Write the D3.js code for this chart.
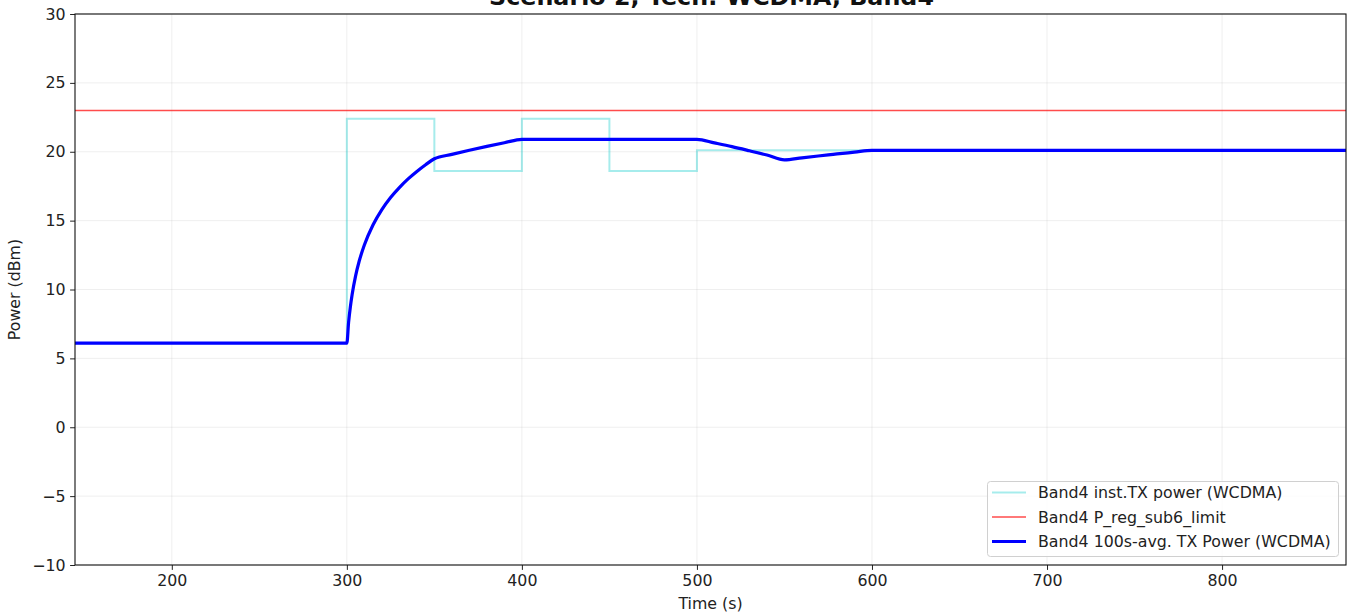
<!DOCTYPE html>
<html><head><meta charset="utf-8">
<script src="https://cdn.jsdelivr.net/npm/d3@7"></script>
<style>body{margin:0;background:#fff}svg{display:block;font-family:"DejaVu Sans",sans-serif}</style>
</head><body><svg id="c" width="1352" height="615"></svg>
<script>
const titleText = "Scenario 2, Tech: WCDMA, Band4";
const xTicks = [200, 300, 400, 500, 600, 700, 800];
const yTicks = [-10, -5, 0, 5, 10, 15, 20, 25, 30];
// instantaneous TX power (step series): time, dBm
const instTime = [0, 300, 300, 350, 350, 400, 400, 450, 450, 500, 500, 1000];
const instPower = [6.1, 6.1, 22.4, 22.4, 18.6, 18.6, 22.4, 22.4, 18.6, 18.6, 20.1, 20.1];
// regulatory limit
const limitValue = 23;
// 100s averaged TX power
const avgTime = [0, 300, 301, 302, 303, 305, 307, 310, 315, 320, 325, 330, 335, 340, 345, 350, 360, 370, 380, 390, 400, 500, 510, 520, 530, 540, 550, 560, 575, 580, 590, 600, 1000];
const avgPower = [6.1, 6.1, 7.61, 8.73, 9.62, 10.99, 12.03, 13.23, 14.70, 15.80, 16.68, 17.40, 18.03, 18.57, 19.06, 19.49, 19.81, 20.11, 20.39, 20.65, 20.90, 20.90, 20.64, 20.37, 20.07, 19.76, 19.41, 19.56, 19.77, 19.84, 19.97, 20.10, 20.10];
const legendLabels = ["Band4 inst.TX power (WCDMA)", "Band4 P_reg_sub6_limit", "Band4 100s-avg. TX Power (WCDMA)"];

const FS = "15.8px";
const svg = d3.select("#c");
const L = 75, R = 1346, T = 14, B = 565;
const x = d3.scaleLinear().domain([144.7, 870.8]).range([L, R]);
const y = d3.scaleLinear().domain([-10, 30]).range([B, T]);

svg.append("defs").append("clipPath").attr("id", "clip")
  .append("rect").attr("x", L).attr("y", T).attr("width", R - L).attr("height", B - T);

// grid
const g = svg.append("g");
g.selectAll(".gx").data(xTicks).join("line")
  .attr("x1", d => x(d)).attr("x2", d => x(d)).attr("y1", T).attr("y2", B)
  .attr("stroke", "#b0b0b0").attr("stroke-opacity", 0.25).attr("stroke-width", 0.8);
g.selectAll(".gy").data(yTicks).join("line")
  .attr("y1", d => y(d)).attr("y2", d => y(d)).attr("x1", L).attr("x2", R)
  .attr("stroke", "#b0b0b0").attr("stroke-opacity", 0.25).attr("stroke-width", 0.8);

const plot = svg.append("g").attr("clip-path", "url(#clip)");
const instData = instTime.map((t, i) => [t, instPower[i]]);
const avgData = avgTime.map((t, i) => [t, avgPower[i]]);
const line = d3.line().x(d => x(d[0])).y(d => y(d[1]));

plot.append("path").datum(instData).attr("d", line)
  .attr("fill", "none").attr("stroke", "#00c8c8").attr("stroke-opacity", 0.35).attr("stroke-width", 2);
plot.append("line").attr("x1", L).attr("x2", R).attr("y1", y(limitValue)).attr("y2", y(limitValue))
  .attr("stroke", "#ff0000").attr("stroke-opacity", 0.7).attr("stroke-width", 1.5);
plot.append("path").datum(avgData).attr("d", d3.line().curve(d3.curveMonotoneX).x(d => x(d[0])).y(d => y(d[1])))
  .attr("fill", "none").attr("stroke", "#0000ff").attr("stroke-width", 3.2).attr("stroke-linejoin", "round");

// axes
const fmt = d => d < 0 ? "\u2212" + Math.abs(d) : String(d);
const xa = svg.append("g").attr("transform", `translate(0,${B})`)
  .call(d3.axisBottom(x).tickValues(xTicks).tickSize(4.9).tickPadding(4.5).tickFormat(fmt));
const ya = svg.append("g").attr("transform", `translate(${L},0)`)
  .call(d3.axisLeft(y).tickValues(yTicks).tickSize(4.9).tickPadding(4.5).tickFormat(fmt));
[xa, ya].forEach(a => {
  a.select(".domain").remove();
  a.selectAll("text").attr("font-size", FS).attr("fill", "#222").attr("font-family", "DejaVu Sans, sans-serif");
  a.selectAll("line").attr("stroke", "#222").attr("stroke-width", 1);
});
svg.append("rect").attr("x", L).attr("y", T).attr("width", R - L).attr("height", B - T)
  .attr("fill", "none").attr("stroke", "#111").attr("stroke-width", 1.1);

// labels
svg.append("text").attr("x", (L + R) / 2 + 1).attr("y", 5).attr("text-anchor", "middle")
  .attr("font-size", "23.8px").attr("font-weight", "bold").attr("fill", "#111").text(titleText);
svg.append("text").attr("x", (L + R) / 2).attr("y", 609).attr("text-anchor", "middle")
  .attr("font-size", FS).attr("fill", "#222").text("Time (s)");
svg.append("text").attr("transform", `translate(20,${(T + B) / 2}) rotate(-90)`).attr("text-anchor", "middle")
  .attr("font-size", FS).attr("fill", "#222").text("Power (dBm)");

// legend
const lg = svg.append("g");
lg.append("rect").attr("x", 987.5).attr("y", 481.5).attr("width", 351).attr("height", 75).attr("rx", 3)
  .attr("fill", "#fff").attr("fill-opacity", 0.8).attr("stroke", "#d0d0d0");
const styles = [
  {c: "#00c8c8", o: 0.35, w: 2},
  {c: "#ff0000", o: 0.7, w: 1.5},
  {c: "#0000ff", o: 1, w: 3.2}
];
legendLabels.forEach((lab, i) => {
  const yy = 492.5 + i * 24.5;
  lg.append("line").attr("x1", 992).attr("x2", 1026).attr("y1", yy).attr("y2", yy)
    .attr("stroke", styles[i].c).attr("stroke-opacity", styles[i].o).attr("stroke-width", styles[i].w);
  lg.append("text").attr("x", 1038).attr("y", yy + 5.5).attr("font-size", FS).attr("fill", "#222").text(lab);
});
</script></body></html>
